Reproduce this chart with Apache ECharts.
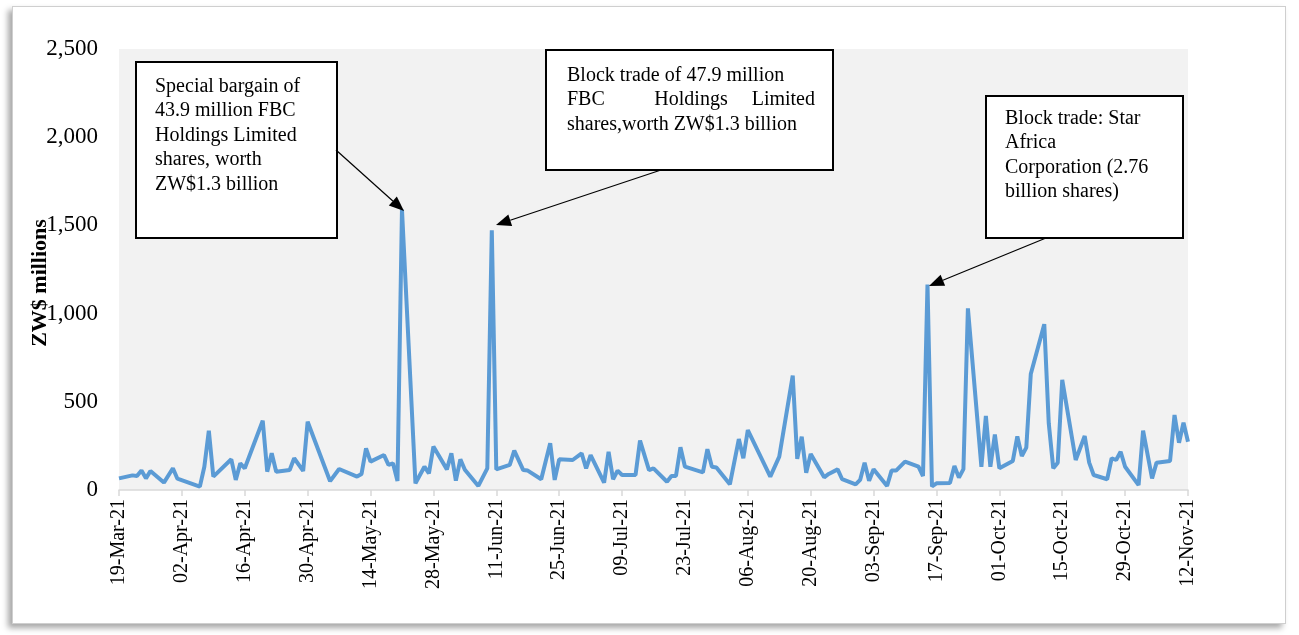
<!DOCTYPE html>
<html>
<head>
<meta charset="utf-8">
<script src="https://cdn.jsdelivr.net/npm/echarts@6/dist/echarts.min.js"></script>
<style>
  html, body { margin: 0; padding: 0; background: #fff; }
  #frame {
    position: absolute; left: 12px; top: 6px; width: 1272px; height: 616px;
    border: 1px solid #cfcfcf; background: #fff;
    box-shadow: -4px 4px 6px rgba(0,0,0,0.35);
  }
  #mainCanvas { position: absolute; left: 0; top: 0; width: 1299px; height: 635px; }
</style>
</head>
<body>
<div id="frame"></div>
<div id="mainCanvas"></div>
<script>
// trading days of 2021 (MM-DD) and value traded, ZW$ millions
var tradeDates = [
  '03-19','03-22','03-23','03-24','03-25','03-26','03-29','03-31',
  '04-01','04-06','04-07','04-08','04-09','04-13','04-14','04-15','04-16',
  '04-20','04-21','04-22','04-23','04-26','04-27','04-29','04-30',
  '05-05','05-07','05-11','05-12','05-13','05-14','05-17','05-18','05-19','05-20','05-21',
  '05-24','05-26','05-27','05-28','05-31',
  '06-01','06-02','06-03','06-04','06-07','06-09','06-10','06-11','06-14','06-15','06-17','06-18',
  '06-21','06-23','06-24','06-25','06-28','06-30',
  '07-01','07-02','07-05','07-06','07-07','07-08','07-09','07-12','07-13','07-15','07-16',
  '07-19','07-20','07-21','07-22','07-23','07-27','07-28','07-29','07-30',
  '08-02','08-04','08-05','08-06','08-11','08-13','08-16','08-17','08-18','08-19','08-20',
  '08-23','08-24','08-26','08-27','08-30','08-31',
  '09-01','09-02','09-03','09-06','09-07','09-08','09-10','09-13','09-14','09-15','09-16','09-17',
  '09-20','09-21','09-22','09-23','09-24','09-27','09-28','09-29','09-30',
  '10-01','10-04','10-05','10-06','10-07','10-08','10-11','10-12','10-13','10-14','10-15',
  '10-18','10-20','10-21','10-22','10-25','10-26','10-27','10-28','10-29',
  '11-01','11-02','11-04','11-05','11-08','11-09','11-10','11-11','11-12'
];
var tradeValues = [
  66, 83, 79, 110, 66, 108, 42, 123,
  64, 19, 132, 336, 76, 174, 57, 151, 123,
  393, 104, 208, 104, 113, 180, 108, 387,
  50, 119, 76, 91, 236, 161, 198, 142, 151, 51, 1590,
  38, 132, 94, 246, 117,
  208, 53, 174, 115, 23, 123, 1472, 117, 142, 223, 113, 110,
  61, 265, 57, 174, 170, 208,
  123, 198, 42, 217, 61, 110, 85, 85, 280, 113, 123,
  47, 79, 79, 242, 132, 100, 231, 132, 128,
  32, 289, 180, 340, 76, 189, 648, 176, 302, 98, 204,
  72, 91, 117, 61, 32, 57,
  155, 53, 117, 23, 110, 110, 161, 132, 79, 1165, 20, 38,
  40, 136, 70, 118, 1030, 132, 420, 132, 315,
  123, 165, 304, 193, 240, 658, 940, 378, 123, 155, 624,
  170, 306, 155, 85, 61, 180, 170, 217, 132,
  28, 336, 66, 155, 164, 425, 268, 381, 274
];
var yTicks = [0, 500, 1000, 1500, 2000, 2500];
var firstDay = '2021-03-19';
var lastDay = '2021-11-12';

var DAY = 864e5;
var t0 = Date.parse(firstDay);
var spanDays = (Date.parse(lastDay) - t0) / DAY;
var months = ['Jan','Feb','Mar','Apr','May','Jun','Jul','Aug','Sep','Oct','Nov','Dec'];

function dayLabel(v) {
    var d = new Date(t0 + v * DAY);
    var dd = d.getUTCDate();
    return (dd < 10 ? '0' + dd : dd) + '-' + months[d.getUTCMonth()] + '-' + String(d.getUTCFullYear()).slice(2);
}

var seriesData = [];
for (var i = 0; i < tradeDates.length; i++) {
    seriesData.push([(Date.parse('2021-' + tradeDates[i]) - t0) / DAY, tradeValues[i]]);
}

var serif = '"Liberation Serif", "Times New Roman", serif';
var noteFont = '20px ' + serif;

// annotation box with arrow
function box(x, y, w, h) {
    return { type: 'rect', shape: { x: x, y: y, width: w, height: h },
             style: { fill: '#fff', stroke: '#000', lineWidth: 2 }, z: 10 };
}
function note(x, y, text, align) {
    return { type: 'text', z: 11,
             style: { x: x, y: y, text: text, font: noteFont, fill: '#000',
                      lineHeight: 24.5, align: align || 'left', verticalAlign: 'top' } };
}
function arrow(x1, y1, x2, y2) {
    var a = Math.atan2(y2 - y1, x2 - x1), L = 15, W = 6;
    var bx = x2 - L * Math.cos(a), by = y2 - L * Math.sin(a);
    var px = -Math.sin(a) * W, py = Math.cos(a) * W;
    return [
        { type: 'line', z: 10, shape: { x1: x1, y1: y1, x2: bx, y2: by },
          style: { stroke: '#000', lineWidth: 1.2 } },
        { type: 'polygon', z: 10, shape: { points: [[x2, y2], [bx + px, by + py], [bx - px, by - py]] },
          style: { fill: '#000' } }
    ];
}

var graphics = [].concat(
    [box(136, 62, 201, 176),
     note(155, 74, 'Special bargain of\n43.9 million FBC\nHoldings Limited\nshares, worth\nZW$1.3 billion')],
    arrow(336, 150, 404, 211),
    [box(546, 50, 287, 120),
     note(567, 63, 'Block trade of 47.9 million'),
     note(567, 87.5, 'FBC'),
     note(691, 87.5, 'Holdings', 'center'),
     note(815, 87.5, 'Limited', 'right'),
     note(567, 112, 'shares,worth ZW$1.3 billion')],
    arrow(661, 170, 496, 225),
    [box(986, 96, 197, 142),
     note(1005, 106, 'Block trade: Star\nAfrica\nCorporation (2.76\nbillion shares)')],
    arrow(1046, 238, 929, 286),
    // y-axis title, placed as in the original (overlapping the tick labels)
    [{ type: 'text', z: 5, x: 40, y: 283, rotation: Math.PI / 2,
       style: { x: 0, y: 0, text: 'ZW$ millions', fill: '#000', align: 'center', verticalAlign: 'middle',
                font: 'bold 22px ' + serif } }]
);

var myChart = echarts.init(document.getElementById('mainCanvas'));
var option = {
    animation: false,
    backgroundColor: 'transparent',
    grid: { left: 119, right: 111, top: 49, bottom: 145, show: true,
            backgroundColor: '#f2f2f2', borderWidth: 0 },
    xAxis: {
        type: 'value', min: 0, max: spanDays, interval: 14,
        axisLine: { lineStyle: { color: '#d9d9d9', width: 1.5 } },
        axisTick: { show: true, length: 6, lineStyle: { color: '#d9d9d9', width: 1.5 } },
        splitLine: { show: false },
        axisLabel: { rotate: 90, margin: 9, color: '#000', fontFamily: serif, fontSize: 20,
                     formatter: dayLabel }
    },
    yAxis: {
        type: 'value', min: yTicks[0], max: yTicks[yTicks.length - 1], interval: yTicks[1] - yTicks[0],
        axisLine: { show: false }, axisTick: { show: false }, splitLine: { show: false },
        axisLabel: { margin: 21, color: '#000', fontFamily: serif, fontSize: 23,
                     formatter: function (v) { return v.toLocaleString('en-US'); } }
    },
    series: [{
        name: 'Value traded', type: 'line', data: seriesData, showSymbol: false, symbol: 'none',
        lineStyle: { color: '#5b9bd5', width: 4 }
    }],
    graphic: graphics
};
myChart.setOption(option);
</script>
</body>
</html>
